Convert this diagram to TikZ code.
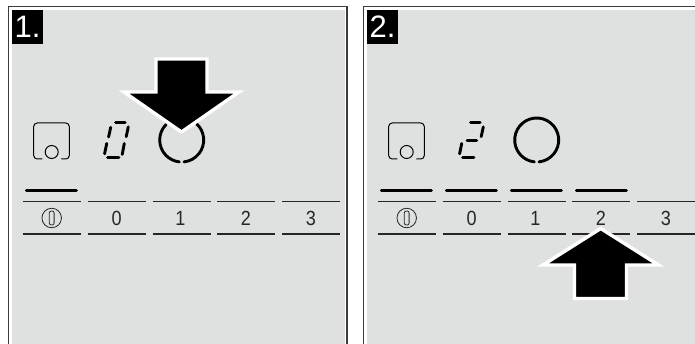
\documentclass[tikz,border=0pt]{standalone}
\usepackage{fontspec}
\setmainfont{Liberation Sans}
\definecolor{panelgray}{HTML}{DFE1E0}
\definecolor{framegray}{HTML}{3C3C3C}
\tikzset{
  panelfill/.style={fill=panelgray,draw=none},
  frameline/.style={draw=framegray,line width=1.4pt,line cap=butt},
  badge/.style={fill=black,text=white,inner sep=0pt,minimum width=31pt,minimum height=34pt,font=\fontsize{31}{31}\selectfont},
  seg/.style={line width=2.9pt,line cap=round},
  ringline/.style={line width=2.9pt,line cap=round},
  bar/.style={line width=3pt,line cap=round},
  keyline/.style={line width=1.1pt,draw=black!85},
  iconline/.style={line width=1pt,line cap=round},
  keylabel/.style={font=\fontsize{20.5}{20.5}\selectfont,text=black!85,inner sep=0pt,xscale=.88},
  pointer/.style={fill=black,draw=white,line width=3.4pt,miter limit=10,line join=miter}
}
\newcommand{\panelbase}{%
  \draw[iconline,rounded corners=3.5pt] (42,159) -- (33.7,159) -- (33.7,123) -- (69.3,123) -- (69.3,159) -- (61.5,159);
  \node[circle,draw,line width=1pt,minimum size=13pt,inner sep=0pt] (hob) at (51.7,152) {};
  \foreach \xa in {22.7,87.7,152.7,217.3,282.3}{
    \draw[keyline] (\xa,201.7) -- ++(58,0);
    \draw[keyline] (\xa,234) -- ++(58,0);
  }
  \node[circle,draw=black!85,line width=.8pt,minimum size=19.5pt,inner sep=0pt] (power) at (51.7,218) {};
  \draw[line width=.8pt,draw=black!85,rounded corners=2pt] (49.3,211) rectangle (54.1,225);
  \node[keylabel] (k0) at (116.7,218) {0};
  \node[keylabel] (k1) at (180.5,218) {1};
  \node[keylabel] (k2) at (246,218) {2};
  \node[keylabel] (k3) at (311,218) {3};
  \draw[bar] (26.3,190.7) -- (76.3,190.7);
}
\begin{document}
\begin{tikzpicture}[x=1pt,y=-1pt]
\useasboundingbox (0,0) rectangle (695,344);
\fill[white] (0,0) rectangle (695,344);
% panel 1
\fill[panelfill] (12,10.5) rectangle (345,344);
\draw[frameline] (8.7,344) -- (8.7,6.6) -- (347,6.6) -- (347,344);
\node[badge] (b1) at (27.5,27) {1.};
\panelbase
\draw[seg] (115.5,122.7) -- (125.2,122.7);
\draw[seg] (110.7,127.3) -- (108.6,137);
\draw[seg] (128.3,126.9) -- (126.2,136.7);
\draw[seg] (106.7,143.5) -- (104.6,153.8);
\draw[seg] (124.3,143.5) -- (122.2,154.5);
\draw[seg] (107.6,157.7) -- (119,157.7);
\draw[ringline] (181.7,140) ++(-135:22) arc[start angle=-135,end angle=-264,radius=22];
\draw[ringline] (181.7,140) ++(-276:22) arc[start angle=-276,end angle=-407,radius=22];
\draw[pointer] (156,59) -- (207,59) -- (207,92) -- (239,92) -- (181.5,132) -- (124,92) -- (156,92) -- cycle;
% panel 2
\fill[panelfill] (367,10.5) rectangle (695,344);
\draw[frameline] (363.4,344) -- (363.4,6.6) -- (695,6.6);
\node[badge] (b2) at (382.5,27) {2.};
\begin{scope}[xshift=355pt]
\panelbase
\draw[bar] (91.3,190.7) -- (141.3,190.7);
\draw[bar] (156.3,190.7) -- (206.3,190.7);
\draw[bar] (221.3,190.7) -- (271.3,190.7);
\draw[seg] (115.5,122.7) -- (125.2,122.7);
\draw[seg] (128.3,126.9) -- (126.2,136.7);
\draw[seg] (112,140.7) -- (121.7,140.7);
\draw[seg] (106.7,143.5) -- (104.6,153.8);
\draw[seg] (107.6,157.7) -- (119,157.7);
\draw[ringline] (181.7,140) ++(-276:22) arc[start angle=-276,end angle=-624,radius=22];
\end{scope}
\draw[pointer] (574.5,298.5) -- (626.5,298.5) -- (626.5,265) -- (658.5,265) -- (600.7,228.5) -- (543,265) -- (574.5,265) -- cycle;
\end{tikzpicture}
\end{document}
